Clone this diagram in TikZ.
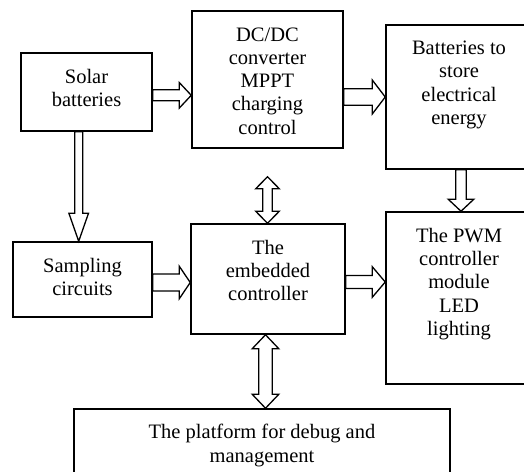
\documentclass[tikz,border=0pt]{standalone}
\usepackage{fontspec}
\setmainfont{Liberation Serif}
\usetikzlibrary{positioning,calc}

% hollow block arrow: tail, tip, half shaft, half head, head length
\newcommand\fatarrow[5]{%
  \draw[blockarrow] let \p1=#1, \p2=#2,
      \n1={atan2(\y2-\y1,\x2-\x1)}, \n2={veclen(\x2-\x1,\y2-\y1)} in
    [shift={(\p1)}, rotate=\n1]
    (0,#3) -- (\n2-#5,#3) -- (\n2-#5,#4) -- (\n2,0) -- (\n2-#5,-#4)
    -- (\n2-#5,-#3) -- (0,-#3) -- cycle;}
% same, with a head at both ends
\newcommand\fatdarrow[5]{%
  \draw[blockarrow] let \p1=#1, \p2=#2,
      \n1={atan2(\y2-\y1,\x2-\x1)}, \n2={veclen(\x2-\x1,\y2-\y1)} in
    [shift={(\p1)}, rotate=\n1]
    (0,0) -- (#5,#4) -- (#5,#3) -- (\n2-#5,#3) -- (\n2-#5,#4) -- (\n2,0)
    -- (\n2-#5,-#4) -- (\n2-#5,-#3) -- (#5,-#3) -- (#5,-#4) -- cycle;}

\tikzset{
  blk/.style={draw, line width=1.5pt, inner sep=0pt},
  txt/.style={align=center, inner sep=0pt, anchor=north,
    font=\fontsize{20.5}{23.3}\selectfont},
  blockarrow/.style={draw, fill=white, line width=1.3pt, line join=miter}
}

\begin{document}
\begin{tikzpicture}[x=1pt, y=-1pt]
    \useasboundingbox (0,0) rectangle (524,471);
    \clip (0,0) rectangle (524,471);

    % boxes
    \node[blk, minimum width=131pt, minimum height=78pt] (solar) at (86.5,92) {};
    \node[blk, minimum width=151pt, minimum height=137pt] (dcdc) at (267.5,79.5) {};
    \node[blk, minimum width=146pt, minimum height=144pt] (store) at (459,97) {};
    \node[blk, minimum width=139pt, minimum height=75pt] (sampling) at (82.5,279.5) {};
    \node[blk, minimum width=154pt, minimum height=110pt] (embedded) at (268,279) {};
    \node[blk, minimum width=146pt, minimum height=172pt] (pwm) at (459,298) {};
    \node[blk, minimum width=376pt, minimum height=80pt] (platform) at (262,449) {};

    % texts, hung from the top of each box
    \node[txt, below=17pt of solar.north] (solar-t) {Solar\\batteries};
    \node[txt, below=17pt of dcdc.north] (dcdc-t) {DC/DC\\converter\\MPPT\\charging\\control};
    \node[txt, below=16.5pt of store.north] (store-t) {Batteries to\\store\\electrical\\energy};
    \node[txt, below=16.5pt of sampling.north] (sampling-t) {Sampling\\circuits};
    \node[txt, below=16.5pt of embedded.north] (embedded-t) {The\\embedded\\controller};
    \node[txt, below=16.5pt of pwm.north] (pwm-t) {The PWM\\controller\\module\\LED\\lighting};
    \node[txt, below=16pt of platform.north] (platform-t) {The platform for debug and\\management};

    % arrow ends off the box centres
    \coordinate (s1) at ([yshift=-3.3pt]solar.east);
    \coordinate (s2) at ([xshift=-7.8pt]solar.south);
    \coordinate (s3) at ([yshift=-3pt]sampling.east);
    \coordinate (s4) at ([yshift=-3pt]embedded.east);
    \coordinate (s5) at ([xshift=2pt]store.south);
    \coordinate (s6) at ([yshift=-28pt]dcdc.south);
    \coordinate (s7) at ([xshift=-2.5pt]embedded.south);

    \fatarrow{(s1)}{(s1 -| dcdc.west)}{5.5}{12.8}{12}
    \fatarrow{(dcdc.east |- store.west)}{(store.west)}{8.3}{17}{13}
    \fatarrow{(s2)}{(s2 |- sampling.north)}{4}{9.8}{28}
    \fatarrow{(s3)}{(s3 -| embedded.west)}{8.5}{16.3}{11}
    \fatarrow{(s4)}{(s4 -| pwm.west)}{6.5}{15.3}{13}
    \fatarrow{(s5)}{(s5 |- pwm.north)}{5.3}{12.8}{12}
    \fatdarrow{(s6)}{(s6 |- embedded.north)}{4.8}{11.8}{12}
    \fatdarrow{(s7)}{(s7 |- platform.north)}{6.8}{13.3}{14}
\end{tikzpicture}
\end{document}
